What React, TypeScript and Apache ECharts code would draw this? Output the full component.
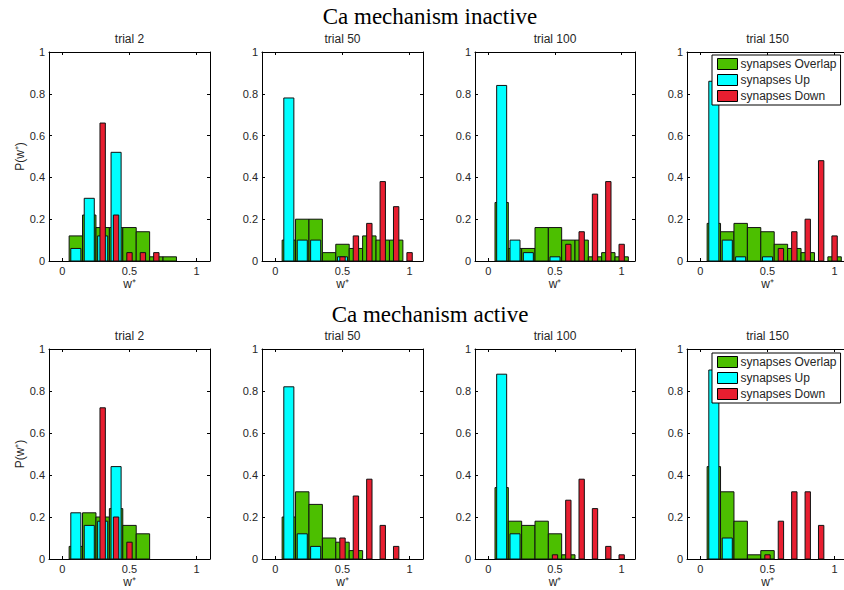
import React, { useEffect, useRef } from 'react';
import * as echarts from 'echarts';

// ---- data ----
const bins = [0.1, 0.2, 0.3, 0.4, 0.5, 0.6, 0.7, 0.8, 0.9, 1.0];
const trials = ['trial 2', 'trial 50', 'trial 100', 'trial 150'];
const rowTitles = ['Ca mechanism inactive', 'Ca mechanism active'];
const seriesNames = ['synapses Overlap', 'synapses Up', 'synapses Down'];
const xTickValues = [0, 0.5, 1];

const overlapInactive = [
  [0.12, 0.22, 0.16, 0.16, 0.16, 0.14, 0.02, 0.02, 0, 0],
  [0.10, 0.20, 0.20, 0.04, 0.08, 0.06, 0.12, 0.10, 0.10, 0],
  [0.28, 0.06, 0.06, 0.16, 0.16, 0.10, 0.10, 0.02, 0.04, 0.02],
  [0.18, 0.14, 0.18, 0.16, 0.14, 0.08, 0.06, 0.04, 0, 0.02],
];
const upInactive = [
  [0.06, 0.30, 0.12, 0.52, 0, 0, 0, 0, 0, 0],
  [0.78, 0.10, 0.10, 0, 0.02, 0, 0, 0, 0, 0],
  [0.84, 0.10, 0.04, 0, 0.02, 0, 0, 0, 0, 0],
  [0.86, 0.10, 0.02, 0, 0.02, 0, 0, 0, 0, 0],
];
const downInactive = [
  [0, 0, 0.66, 0.22, 0.04, 0.04, 0.04, 0, 0, 0],
  [0, 0, 0, 0, 0.02, 0.12, 0.18, 0.38, 0.26, 0.04],
  [0, 0, 0, 0, 0, 0.08, 0.14, 0.32, 0.38, 0.08],
  [0, 0, 0, 0, 0, 0.06, 0.14, 0.20, 0.48, 0.12],
];
const overlapActive = [
  [0.06, 0.22, 0.20, 0.24, 0.16, 0.12, 0, 0, 0, 0],
  [0.20, 0.32, 0.26, 0.10, 0.08, 0.04, 0, 0, 0, 0],
  [0.34, 0.18, 0.16, 0.18, 0.12, 0.02, 0, 0, 0, 0],
  [0.44, 0.32, 0.18, 0.02, 0.04, 0, 0, 0, 0, 0],
];
const upActive = [
  [0.22, 0.16, 0.18, 0.44, 0, 0, 0, 0, 0, 0],
  [0.82, 0.12, 0.06, 0, 0, 0, 0, 0, 0, 0],
  [0.88, 0.12, 0, 0, 0, 0, 0, 0, 0, 0],
  [0.90, 0.10, 0, 0, 0, 0, 0, 0, 0, 0],
];
const downActive = [
  [0, 0, 0.72, 0.20, 0.08, 0, 0, 0, 0, 0],
  [0, 0, 0, 0, 0.10, 0.30, 0.38, 0.16, 0.06, 0],
  [0, 0, 0, 0, 0.02, 0.28, 0.38, 0.24, 0.06, 0.02],
  [0, 0, 0, 0, 0.02, 0.18, 0.32, 0.32, 0.16, 0],
];

// ---- styling / layout ----
const colors = ['#4cbf00', '#00ffff', '#e81e30'];
const barWidths = [0.1, 0.075, 0.04];
const colLeft = [49, 262, 475, 687];
const colWidth = [161, 161, 160, 161];
const rowTop = [52, 349];
const rowHeight = [209, 210];
const sans = '"Liberation Sans", Arial, Helvetica, sans-serif';
const serif = '"Liberation Serif", "Times New Roman", serif';
const labelColor = '#262626';

function buildOption() {
  const grid: any[] = [];
  const xAxis: any[] = [];
  const yAxis: any[] = [];
  const series: any[] = [];
  const title: any[] = [];
  const legend: any[] = [];
  const rows = [
    [overlapInactive, upInactive, downInactive],
    [overlapActive, upActive, downActive],
  ];

  for (let r = 0; r < 2; r++) {
    title.push({
      text: rowTitles[r],
      left: 430,
      top: r === 0 ? 5 : 303,
      textAlign: 'center',
      padding: 0,
      textStyle: { fontFamily: serif, fontSize: 23, fontWeight: 'normal', color: '#000' },
    });
    for (let c = 0; c < 4; c++) {
      const g = r * 4 + c;
      grid.push({
        left: colLeft[c],
        top: rowTop[r],
        width: colWidth[c],
        height: rowHeight[r],
        outerBoundsMode: 'none',
        containLabel: false,
      });
      title.push({
        text: trials[c],
        left: colLeft[c] + colWidth[c] / 2,
        top: rowTop[r] - 19,
        textAlign: 'center',
        padding: 0,
        textStyle: { fontFamily: sans, fontSize: 12, fontWeight: 'normal', color: labelColor },
      });
      // bottom x axis
      xAxis.push({
        type: 'value',
        gridIndex: g,
        min: -0.1,
        max: 1.1,
        position: 'bottom',
        axisLine: { show: true, onZero: false, lineStyle: { color: '#000', width: 1 } },
        axisTick: { show: true, inside: true, length: 3, customValues: xTickValues, lineStyle: { color: '#000' } },
        axisLabel: {
          show: true,
          customValues: xTickValues,
          formatter: (v: number) => String(Math.round(v * 10) / 10),
          fontFamily: sans,
          fontSize: 11,
          color: labelColor,
          margin: 4,
        },
        splitLine: { show: false },
        name: 'w⁺',
        nameLocation: 'middle',
        nameGap: 17,
        nameTextStyle: { fontFamily: sans, fontSize: 12, color: labelColor },
      });
      // top x axis (box)
      xAxis.push({
        type: 'value',
        gridIndex: g,
        min: -0.1,
        max: 1.1,
        position: 'top',
        axisLine: { show: true, onZero: false, lineStyle: { color: '#000', width: 1 } },
        axisTick: { show: true, inside: true, length: 3, customValues: xTickValues, lineStyle: { color: '#000' } },
        axisLabel: { show: false },
        splitLine: { show: false },
      });
      // left y axis
      yAxis.push({
        type: 'value',
        gridIndex: g,
        min: 0,
        max: 1,
        interval: 0.2,
        position: 'left',
        axisLine: { show: true, onZero: false, lineStyle: { color: '#000', width: 1 } },
        axisTick: { show: true, inside: true, length: 3, lineStyle: { color: '#000' } },
        axisLabel: {
          show: true,
          formatter: (v: number) => String(Math.round(v * 10) / 10),
          fontFamily: sans,
          fontSize: 11,
          color: labelColor,
          margin: 4,
        },
        splitLine: { show: false },
        name: c === 0 ? 'P(w⁺)' : '',
        nameLocation: 'middle',
        nameGap: 22,
        nameTextStyle: { fontFamily: sans, fontSize: 12, color: labelColor },
      });
      // right y axis (box)
      yAxis.push({
        type: 'value',
        gridIndex: g,
        min: 0,
        max: 1,
        interval: 0.2,
        position: 'right',
        axisLine: { show: true, onZero: false, lineStyle: { color: '#000', width: 1 } },
        axisTick: { show: true, inside: true, length: 3, lineStyle: { color: '#000' } },
        axisLabel: { show: false },
        splitLine: { show: false },
      });

      for (let s = 0; s < 3; s++) {
        const values = rows[r][s][c];
        const w = barWidths[s];
        const color = colors[s];
        series.push({
          type: 'custom',
          name: seriesNames[s],
          xAxisIndex: 2 * g,
          yAxisIndex: 2 * g,
          z: 2 + s,
          itemStyle: { color },
          encode: { x: 0, y: 1 },
          data: bins.map((b, i) => [b, values[i]]).filter((d) => d[1] > 0),
          renderItem: (params: any, api: any) => {
            const x = api.value(0);
            const y = api.value(1);
            const p1 = api.coord([x - w / 2, y]);
            const p2 = api.coord([x + w / 2, 0]);
            return {
              type: 'rect',
              shape: { x: p1[0], y: p1[1], width: p2[0] - p1[0], height: p2[1] - p1[1] },
              style: { fill: color, stroke: '#111', lineWidth: 1 },
            };
          },
        });
      }
    }
    legend.push({
      data: seriesNames,
      orient: 'vertical',
      left: 712,
      top: r === 0 ? 55 : 353,
      padding: [3, 4, 3, 5],
      itemGap: 4,
      itemWidth: 20,
      itemHeight: 11,
      icon: 'rect',
      selectedMode: false,
      backgroundColor: '#fff',
      borderColor: '#000',
      borderWidth: 1,
      borderRadius: 0,
      z: 20,
      itemStyle: { borderColor: '#000', borderWidth: 1 },
      textStyle: { fontFamily: sans, fontSize: 12, color: labelColor, padding: [0, 0, 0, -2] },
    });
  }

  return {
    animation: false,
    backgroundColor: '#fff',
    textStyle: { fontFamily: sans },
    title,
    legend,
    grid,
    xAxis,
    yAxis,
    series,
  };
}

export default function App() {
  const ref = useRef<HTMLDivElement>(null);
  useEffect(() => {
    const chart = echarts.init(ref.current!, null, { renderer: 'svg' });
    chart.setOption(buildOption() as any);
    return () => chart.dispose();
  }, []);
  return (
    <div
      ref={ref}
      style={{ position: 'absolute', left: 0, top: 0, width: 844, height: 590 }}
    />
  );
}
